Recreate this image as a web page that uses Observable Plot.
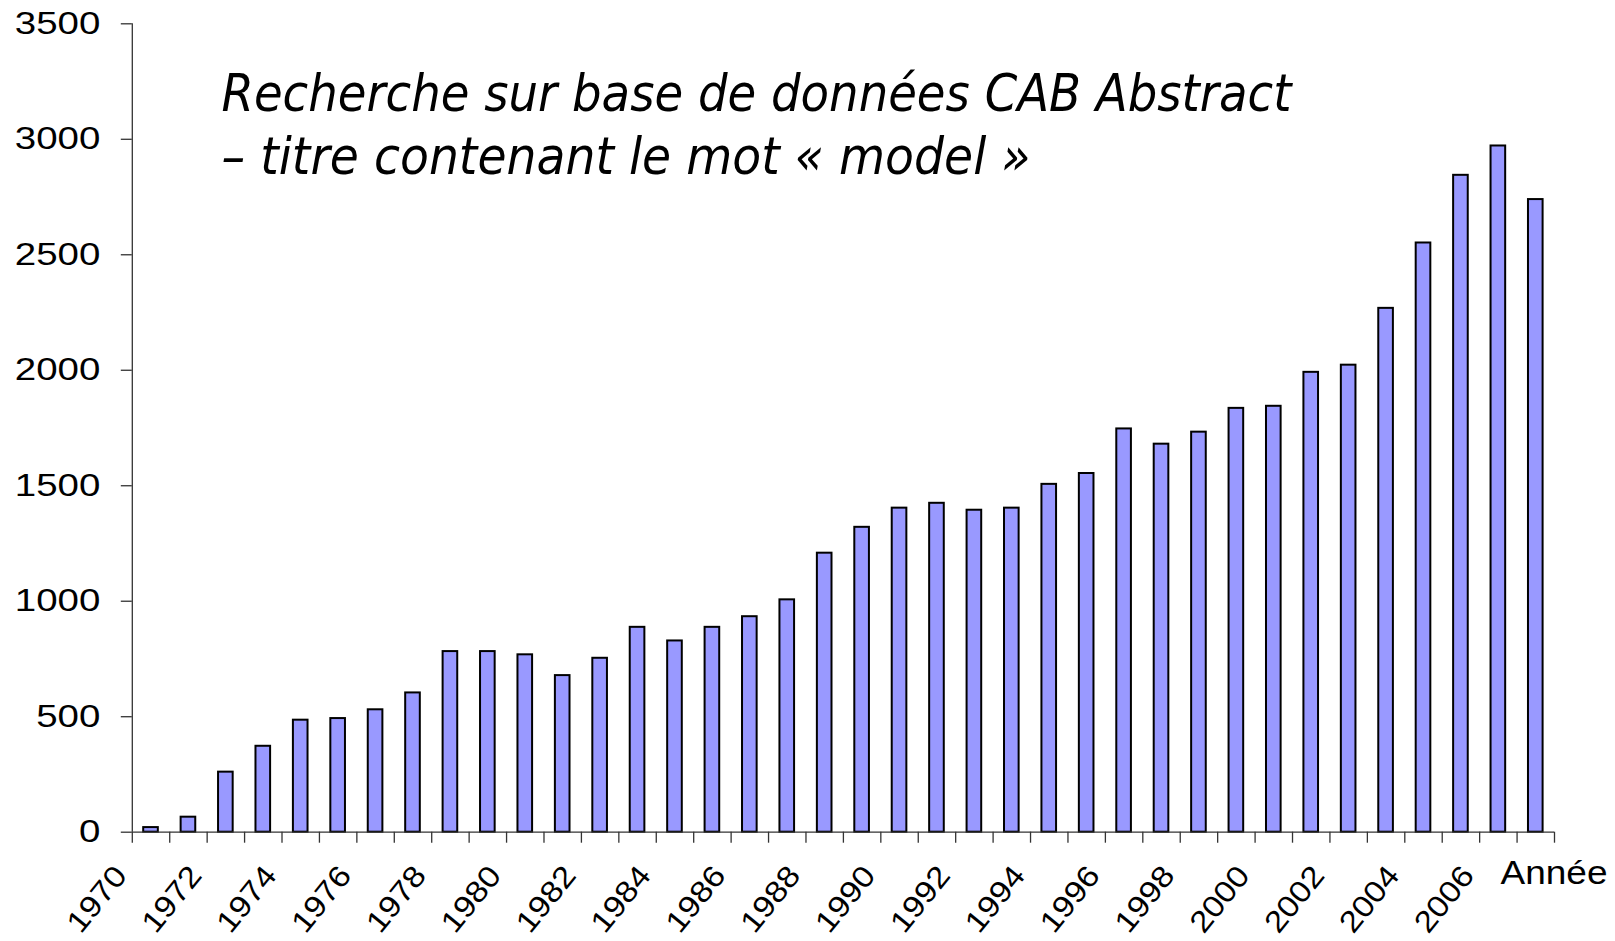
<!DOCTYPE html>
<html>
<head>
<meta charset="utf-8">
<script src="https://cdn.jsdelivr.net/npm/d3@7"></script>
<script src="https://cdn.jsdelivr.net/npm/@observablehq/plot@0.6"></script>
<style>
  html, body { margin: 0; padding: 0; background: #fff; }
  #chart svg { display: block; }
</style>
</head>
<body>
<div id="chart"></div>
<script>
// ---- data ----
const years = [1970, 1971, 1972, 1973, 1974, 1975, 1976, 1977, 1978, 1979,
               1980, 1981, 1982, 1983, 1984, 1985, 1986, 1987, 1988, 1989,
               1990, 1991, 1992, 1993, 1994, 1995, 1996, 1997, 1998, 1999,
               2000, 2001, 2002, 2003, 2004, 2005, 2006, 2007];
const counts = [20, 65, 260, 372, 485, 492, 530, 603, 782, 782,
                768, 678, 753, 887, 828, 887, 933, 1006, 1208, 1320,
                1403, 1424, 1394, 1403, 1506, 1553, 1746, 1680, 1732, 1835,
                1844, 1991, 2022, 2268, 2551, 2844, 2971, 2739];
const xTickLabels = [1970, 1972, 1974, 1976, 1978, 1980, 1982, 1984, 1986, 1988,
                     1990, 1992, 1994, 1996, 1998, 2000, 2002, 2004, 2006];
const yTicks = [0, 500, 1000, 1500, 2000, 2500, 3000, 3500];
const axisTitle = "Année";
const titleLine1 = "Recherche sur base de données CAB Abstract";
const titleLine2 = "– titre contenant le mot « model »";

const data = years.map((year, i) => ({year, count: counts[i]}));
const boundaries = [...years, years[years.length - 1] + 1];

const W = 1615, H = 941;
const font = "'Liberation Sans', Arial, Helvetica, sans-serif";
const titleFont = "'DejaVu Sans', Verdana, sans-serif";
const axisColor = "#333";

const chart = Plot.plot({
  width: W,
  height: H,
  marginLeft: 131.8,
  marginRight: W - 1554,
  marginTop: 23.3,
  marginBottom: H - 831.7,
  style: {fontFamily: font, fontSize: "31px", color: "black", background: "white"},
  x: {type: "linear", domain: [boundaries[0], boundaries[boundaries.length - 1]], axis: null},
  y: {domain: [0, 3500], axis: null, label: null},
  marks: [
    Plot.rectY(data, {
      x1: "year",
      x2: d => d.year + 1,
      y: "count",
      insetLeft: 11.4,
      insetRight: 11.4,
      fill: "#9999FF",
      stroke: "black",
      strokeWidth: 2
    }),
    Plot.ruleX([boundaries[0]], {stroke: axisColor, strokeWidth: 1.3}),
    Plot.ruleY([0], {stroke: axisColor, strokeWidth: 1.3}),
    Plot.axisY(yTicks, {
      tickSize: 11, tickPadding: 21, fontSize: 31, stroke: axisColor, strokeWidth: 1.3,
      fill: "black", label: null, tickFormat: d => String(d)
    }),
    Plot.axisX(boundaries, {
      tickSize: 11, tickFormat: () => "", stroke: axisColor, strokeWidth: 1.3, label: null
    }),
    Plot.text(xTickLabels, {
      x: d => d,
      text: d => String(d),
      frameAnchor: "bottom",
      dx: -4, dy: 44,
      rotate: -51,
      textAnchor: "end",
      lineAnchor: "bottom",
      fontSize: 30,
      fill: "black"
    }),
    Plot.text([axisTitle], {
      frameAnchor: "bottom-right",
      textAnchor: "start",
      lineAnchor: "bottom",
      dx: -54, dy: 51.6,
      fontSize: 33,
      fill: "black"
    }),
    Plot.text([titleLine1], {
      frameAnchor: "top-left",
      textAnchor: "start",
      lineAnchor: "bottom",
      dx: 89.2, dy: 86.7,
      fontSize: 52,
      fontStyle: "italic",
      fontFamily: titleFont,
      fill: "black"
    }),
    Plot.text([titleLine2], {
      frameAnchor: "top-left",
      textAnchor: "start",
      lineAnchor: "bottom",
      dx: 89.2, dy: 149.7,
      fontSize: 52,
      fontStyle: "italic",
      fontFamily: titleFont,
      fill: "black"
    })
  ]
});

chart.style.maxWidth = "none";
document.getElementById("chart").appendChild(chart);

// Widths measured on the reference (its lettering is wider than Arial)
const yLabelSet = new Set(yTicks.map(String));
const xLabelSet = new Set(xTickLabels.map(String));
d3.select(chart).selectAll("text").each(function () {
  const t = this.textContent;
  const sel = d3.select(this);
  const rotated = /rotate/.test(this.getAttribute("transform") || "");
  if (t === titleLine1) {
    sel.attr("textLength", 1070).attr("lengthAdjust", "spacingAndGlyphs");
  } else if (t === titleLine2) {
    sel.attr("textLength", 809).attr("lengthAdjust", "spacingAndGlyphs");
  } else if (t === axisTitle) {
    sel.attr("textLength", 107).attr("lengthAdjust", "spacingAndGlyphs");
  } else if (rotated && xLabelSet.has(t)) {
    const len = this.getComputedTextLength();
    sel.attr("textLength", len * 1.13).attr("lengthAdjust", "spacingAndGlyphs");
  } else if (!rotated && yLabelSet.has(t)) {
    const len = this.getComputedTextLength();
    sel.attr("textLength", len * 1.24).attr("lengthAdjust", "spacingAndGlyphs");
  }
});
</script>
</body>
</html>
